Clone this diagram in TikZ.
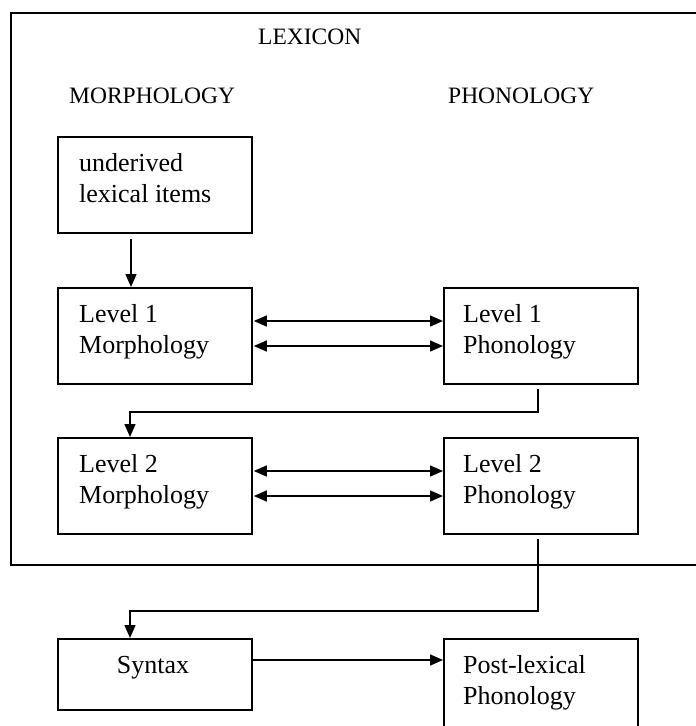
\documentclass[tikz,border=0pt]{standalone}
\usepackage{fontspec}
\setmainfont{Liberation Serif}
\usetikzlibrary{arrows.meta,calc}
\begin{document}
\begin{tikzpicture}[x=1pt,y=-1pt,
  frame/.style={draw, line width=1.8pt, anchor=north west, inner sep=0pt},
  box/.style={frame, minimum width=194pt, minimum height=96pt},
  hdr/.style={font=\fontsize{23.5}{28}\selectfont, inner sep=0pt, anchor=base west},
  lbl/.style={font=\fontsize{26}{30.5}\selectfont, inner sep=0pt, align=left, anchor=north west},
  conn/.style={line width=1.5pt},
  arr/.style={conn, -{Triangle[length=13pt,width=11pt]}},
  darr/.style={conn, {Triangle[length=13pt,width=11pt]}-{Triangle[length=13pt,width=11pt]}}]
\useasboundingbox (0,0) rectangle (696,726);
\clip (0,0) rectangle (696,726);

% outer lexicon frame (right side runs off the picture)
\node[frame, minimum width=700pt, minimum height=552pt] (lex) at (10,12) {};

\node[hdr] (lexicon) at (258,44) {LEXICON};
\node[hdr] (morph) at (69,103) {MORPHOLOGY};
\node[hdr] (phon) at (448,103) {PHONOLOGY};

% boxes
\node[box] (und) at (57,136) {};
\node[box] (m1) at (57,287) {};
\node[box] (p1) at (443,287) {};
\node[box] (m2) at (57,437) {};
\node[box] (p2) at (443,437) {};
\node[box, minimum height=71pt] (syn) at (57,638) {};
\node[box] (post) at (443,638) {};

% texts
\node[lbl] (undt) at ($(und.north west)+(22,17.5)$) {underived\\lexical items};
\node[lbl] (m1t) at ($(m1.north west)+(22,17.5)$) {Level 1\\Morphology};
\node[lbl] (p1t) at ($(p1.north west)+(20,17.5)$) {Level 1\\Phonology};
\node[lbl] (m2t) at ($(m2.north west)+(22,17.5)$) {Level 2\\Morphology};
\node[lbl] (p2t) at ($(p2.north west)+(20,17.5)$) {Level 2\\Phonology};
\node[lbl, anchor=base] (synt) at ($(syn.north west)+(96,35)$) {Syntax};
\node[lbl] (postt) at ($(post.north west)+(20,17.5)$) {Post-lexical\\Phonology};

% connectors
\draw[arr] ($(und.south west)+(74,5)$) -- ($(m1.north west)+(74,0)$);
\draw[darr] ($(m1.north east)+(1,34)$) -- ($(p1.north west)+(0,34)$);
\draw[darr] ($(m1.north east)+(1,59)$) -- ($(p1.north west)+(0,59)$);
\draw[darr] ($(m2.north east)+(1,34)$) -- ($(p2.north west)+(0,34)$);
\draw[darr] ($(m2.north east)+(1,59)$) -- ($(p2.north west)+(0,59)$);
\draw[arr] ($(p1.south west)+(95,4)$) |- ($(m2.north west)+(73,-25)$) -- ($(m2.north west)+(73,0)$);
\draw[arr] ($(p2.south west)+(95,4)$) |- ($(syn.north west)+(73,-27)$) -- ($(syn.north west)+(73,0)$);
\draw[arr] ($(syn.north east)+(0,22)$) -- ($(post.north west)+(0,22)$);
\end{tikzpicture}
\end{document}
